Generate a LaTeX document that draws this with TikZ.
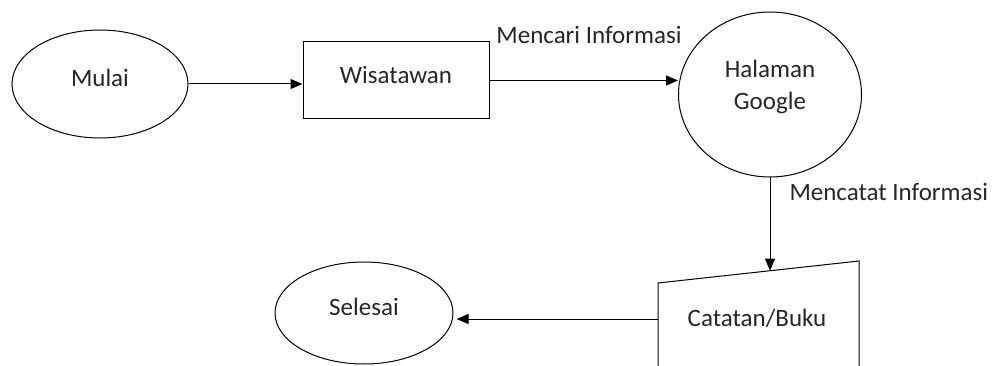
\documentclass[tikz,border=0pt]{standalone}
\usepackage{fontspec}
\setmainfont{Carlito}
\usetikzlibrary{shapes.geometric, arrows.meta}

\begin{document}
\begin{tikzpicture}[x=1pt, y=-1pt, line width=1pt,
		every node/.style={font=\fontsize{25}{32}\selectfont, text=black!85},
		oval/.style={draw, ellipse, inner sep=0pt, text depth=13pt},
		flow/.style={-{Triangle[length=12pt, width=10pt]}}]
					\useasboundingbox (0,0) rectangle (993,366);
					
					\node[oval, minimum width=176, minimum height=108] (mulai) at (100,84) {Mulai};
					\node[draw, minimum width=186, minimum height=77, inner sep=0pt, text depth=11pt] (wisatawan) at (396,80.5) {Wisatawan};
					\node[oval, minimum width=183, minimum height=165, align=center, text depth=20pt] (google) at (770,94.5) {Halaman\\Google};
					\node[oval, minimum width=178, minimum height=102] (selesai) at (364,313) {Selesai};
					
					\coordinate (cTL) at (658,283);
					\coordinate (cTR) at (859,261);
					\coordinate (cIn) at (770,270.7);
					\coordinate (cOut) at (658,319);
					\draw (658,366) -- (cTL) -- (cTR) -- (859,366);
					\node (catatan) at (757,318) {Catatan/Buku};
					
					\draw[flow] (mulai.east) -- (mulai.east -| wisatawan.west);
					\draw[flow] (wisatawan.east) -- (wisatawan.east -| google.west);
					\draw[flow] (google.south) -- (cIn);
					\draw[flow] (cOut) -- ([xshift=3pt]cOut -| selesai.east);
					
					\node (cari) at (589,35) {Mencari Informasi};
					\node[anchor=west, inner sep=0pt] (catat) at (789,192) {Mencatat Informasi};
				\end{tikzpicture}
\end{document}
